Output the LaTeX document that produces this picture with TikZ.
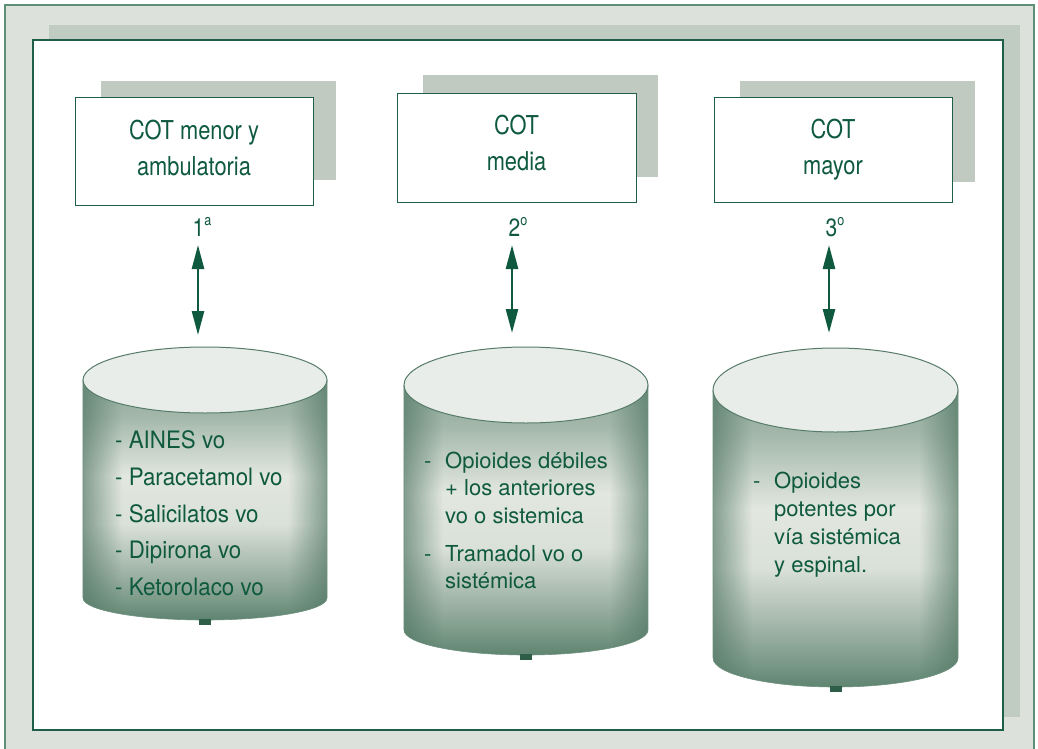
\documentclass[tikz,border=0pt]{standalone}
\usepackage{fontspec}
\setmainfont{TeX Gyre Heros}
\newfontfamily\boxfont{TeX Gyre Heros}[FakeStretch=0.84]
\newfontfamily\cylfontA{TeX Gyre Heros}[FakeStretch=0.93]
\usetikzlibrary{arrows.meta,fadings}

\definecolor{txtgreen}{HTML}{0F5A3F}
\definecolor{outerbg}{HTML}{DCE2DB}
\definecolor{outerline}{HTML}{5E9078}
\definecolor{bandgray}{HTML}{C0CBC2}
\definecolor{panelline}{HTML}{1F5E48}
\definecolor{boxshadow}{HTML}{C0CAC1}
\definecolor{cylF}{HTML}{8FA99A}
\definecolor{cylE}{HTML}{A3B7AA}
\definecolor{cylA}{HTML}{E2E7E0}
\definecolor{cylB}{HTML}{DAE1D9}
\definecolor{cylC}{HTML}{A6B8AC}
\definecolor{cylG}{HTML}{7A9987}
\definecolor{cylD}{HTML}{5E8470}
\definecolor{sidedark}{HTML}{4F7562}
\definecolor{topfill}{HTML}{E8EDE9}
\definecolor{ellline}{HTML}{567B69}
\definecolor{cylline}{HTML}{6F9180}
\definecolor{tabgreen}{HTML}{2E5E48}

\pgfdeclareverticalshading{cylbody}{100bp}{color(0bp)=(cylD); color(25bp)=(cylD); color(29bp)=(cylG); color(36bp)=(cylC); color(45bp)=(cylB); color(55bp)=(cylA); color(67.5bp)=(cylE); color(75bp)=(cylF); color(100bp)=(cylF)}
\pgfdeclarehorizontalshading{sidemask}{100bp}{color(0bp)=(white); color(25bp)=(white); color(33bp)=(black); color(67bp)=(black); color(75bp)=(white); color(100bp)=(white)}
\pgfdeclarefading{sidefade}{\pgfuseshading{sidemask}}

% xl, xr, cy (top ellipse centre), ry (top), yb (side end), ryb (bottom radius), name
\newcommand\drawcyl[7]{%
  \pgfmathsetmacro\cylcx{(#1+#2)/2}%
  \pgfmathsetmacro\cylrx{(#2-#1)/2}%
  \pgfmathsetmacro\cylbot{#5+#6}%
  \path[shading=cylbody] (#1,-#3) -- (#1,-#5) arc[start angle=180,end angle=360,x radius=\cylrx,y radius=#6] -- (#2,-#3) -- cycle;
  \path[fill=sidedark, path fading=sidefade, fit fading=true, fill opacity=0.65] (#1,-#3) -- (#1,-#5) arc[start angle=180,end angle=360,x radius=\cylrx,y radius=#6] -- (#2,-#3) -- cycle;
  \draw[cylline, line width=0.6pt] (#1,-#3) -- (#1,-#5) arc[start angle=180,end angle=360,x radius=\cylrx,y radius=#6] -- (#2,-#3);
  \draw[ellline, line width=1pt, fill=topfill] (\cylcx,-#3) ellipse[x radius=\cylrx, y radius=#4];
  \coordinate (#7) at (\cylcx,-#3);
  \fill[tabgreen] (\cylcx-6,-\cylbot+1) rectangle (\cylcx+6,-\cylbot-5);
}
\newcommand\ordsup[1]{\raisebox{0.42em}{\fontsize{15}{15}\selectfont #1}}

\tikzset{
  cotbox/.style={draw=panelline, fill=white, line width=0.9pt, inner sep=0pt,
    font=\boxfont\fontsize{26}{36}\selectfont, text=txtgreen, align=center},
  ordlabel/.style={font=\boxfont\fontsize{25}{30}\selectfont, text=txtgreen, anchor=base, inner sep=0pt},
  dblarrow/.style={draw=txtgreen, line width=2.6pt,
    arrows={Triangle[width=12pt,length=24pt]-Triangle[width=12pt,length=24pt]}},
  cyltextA/.style={font=\cylfontA\fontsize{24}{30}\selectfont, text=txtgreen, anchor=base west, inner sep=0pt},
  cyltext/.style={font=\fontsize{22}{27}\selectfont, text=txtgreen, anchor=base west, inner sep=0pt},
}

\begin{document}
\begin{tikzpicture}[x=1pt,y=1pt]
\useasboundingbox (0,0) rectangle (1038,-749);
\clip (0,0) rectangle (1038,-749);
\fill[white] (0,0) rectangle (1038,-749);
% frames
\path[fill=outerbg, draw=outerline, line width=1.6pt] (5,-5) rectangle (1034,-760);
\fill[bandgray] (49,-25) rectangle (1020,-717);
\path[fill=white, draw=panelline, line width=1.3pt] (33,-40) rectangle (1003,-730);

% boxes with shadows
\fill[boxshadow] (101,-81) rectangle (336,-180);
\node[cotbox, minimum width=238pt, minimum height=108pt, text depth=6pt] (b1) at (194,-151) {COT menor y\\ambulatoria};
\fill[boxshadow] (423,-75) rectangle (658,-177);
\node[cotbox, minimum width=239pt, minimum height=109pt, text depth=9pt] (b2) at (516.5,-147.5) {COT\\media};
\fill[boxshadow] (740,-81) rectangle (975,-182);
\node[cotbox, minimum width=238pt, minimum height=105pt] (b3) at (833,-149.5) {COT\\mayor};

% ordinal labels
\node[ordlabel] (l1) at (202,-236) {1\ordsup{a}};
\node[ordlabel] (l2) at (518,-236) {2\ordsup{o}};
\node[ordlabel] (l3) at (835,-236) {3\ordsup{o}};

% arrows
\coordinate (a1t) at (198,-245); \coordinate (a1b) at (198,-335);
\coordinate (a2t) at (512,-245); \coordinate (a2b) at (512,-333);
\coordinate (a3t) at (829,-245); \coordinate (a3b) at (829,-333);
\draw[dblarrow] (a1t) -- (a1b);
\draw[dblarrow] (a2t) -- (a2b);
\draw[dblarrow] (a3t) -- (a3b);

% cylinders
\drawcyl{83}{327}{380}{33}{598}{22}{c1}
\drawcyl{404}{648}{385}{38}{630}{25}{c2}
\drawcyl{713}{958}{390}{42}{658}{29}{c3}

% cylinder 1 text
\node[cyltextA] (t11) at (115,-448) {- AINES vo};
\node[cyltextA] (t12) at (115,-485) {- Paracetamol vo};
\node[cyltextA] (t13) at (115,-522) {- Salicilatos vo};
\node[cyltextA] (t14) at (115,-558) {- Dipirona vo};
\node[cyltextA] (t15) at (115,-595) {- Ketorolaco vo};

% cylinder 2 text
\node[cyltext] (t21d) at (424,-468) {-};
\node[cyltext] (t21) at (445,-468) {Opioides débiles};
\node[cyltext] (t22) at (445,-495) {+ los anteriores};
\node[cyltext] (t23) at (445,-523) {vo o sistemica};
\node[cyltext] (t24d) at (424,-561) {-};
\node[cyltext] (t24) at (445,-561) {Tramadol vo o};
\node[cyltext] (t25) at (445,-588) {sistémica};

% cylinder 3 text
\node[cyltext] (t31d) at (753,-488) {-};
\node[cyltext] (t31) at (774,-488) {Opioides};
\node[cyltext] (t32) at (774,-516) {potentes por};
\node[cyltext] (t33) at (774,-544) {vía sistémica};
\node[cyltext] (t34) at (774,-572) {y espinal.};
\end{tikzpicture}
\end{document}
